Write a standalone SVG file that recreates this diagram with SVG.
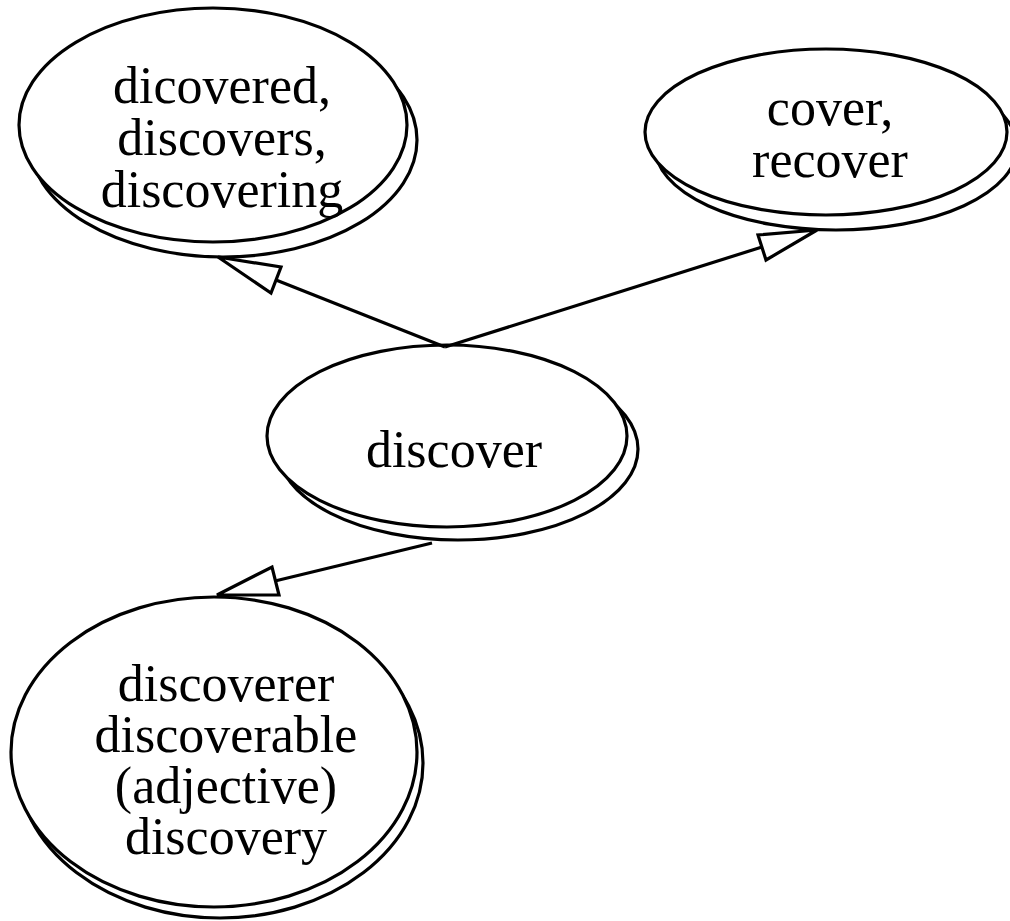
<svg xmlns="http://www.w3.org/2000/svg" width="1010" height="921" viewBox="0 0 1010 921">
<style>
.sh{fill:none;stroke:#000;stroke-width:3.2}
.mn{fill:#fff;stroke:#000;stroke-width:3.2}
.t{font-family:"Liberation Serif","Times New Roman",serif;font-size:52px;fill:#000;text-anchor:middle}
.e{fill:none;stroke:#000;stroke-width:3.2}
.ah{fill:#fff;stroke:#000;stroke-width:3.2;stroke-linejoin:miter}
</style>
<rect width="1010" height="921" fill="#fff"/>
<g id="node-dicovered">
<ellipse class="sh" cx="223" cy="140" rx="194" ry="117"/>
<ellipse class="mn" cx="213" cy="125" rx="194" ry="117"/>
<text class="t" x="222" y="103">dicovered,</text>
<text class="t" x="222" y="155">discovers,</text>
<text class="t" x="222" y="207">discovering</text>
</g>
<g id="node-cover">
<ellipse class="sh" cx="836" cy="147" rx="181" ry="83"/>
<ellipse class="mn" cx="826" cy="132" rx="181" ry="83"/>
<text class="t" x="830" y="125">cover,</text>
<text class="t" x="830" y="177">recover</text>
</g>
<g id="node-discover">
<ellipse class="sh" cx="458" cy="449" rx="180" ry="91"/>
<ellipse class="mn" cx="447" cy="436" rx="180" ry="91"/>
<text class="t" x="454" y="467">discover</text>
</g>
<g id="node-discoverer">
<ellipse class="sh" cx="220" cy="763" rx="203" ry="155"/>
<ellipse class="mn" cx="214" cy="752" rx="203" ry="155"/>
<text class="t" x="226" y="701">discoverer</text>
<text class="t" x="226" y="752">discoverable</text>
<text class="t" x="226" y="803">(adjective)</text>
<text class="t" x="226" y="854">discovery</text>
</g>
<g id="connectors">
<line class="e" x1="445" y1="347" x2="276" y2="280"/>
<polygon class="ah" points="218,257 281,267 271,293"/>
<line class="e" x1="445" y1="347" x2="762" y2="247"/>
<polygon class="ah" points="817,230 758,235 766,260"/>
<line class="e" x1="432" y1="543" x2="275" y2="581"/>
<polygon class="ah" points="217,595 272,567 279,595"/>
</g>
</svg>
